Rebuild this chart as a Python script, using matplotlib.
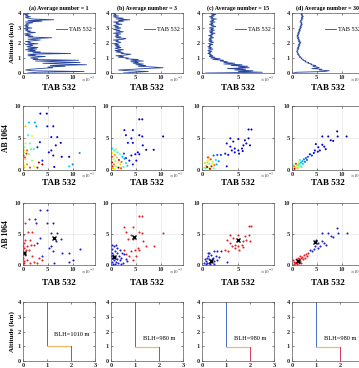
import matplotlib
matplotlib.use('Agg')
import matplotlib.pyplot as plt
import numpy as np

plt.rcParams['font.family'] = ['Liberation Serif', 'DejaVu Serif']
plt.rcParams['mathtext.fontset'] = 'stix'

# ---------------- data (TAB / AB in units of 1e-3) ----------------
titles = ['(a) Average number = 1', '(b) Average number = 3',
          '(c) Average number = 15', '(d) Average number = 30']

alt = [0.00, 0.05, 0.10, 0.15, 0.20, 0.25, 0.30, 0.35, 0.40, 0.45, 0.50, 0.55, 0.60, 0.65,
       0.70, 0.75, 0.80, 0.85, 0.90, 0.95, 1.00, 1.05, 1.10, 1.15, 1.20, 1.25, 1.30, 1.35,
       1.40, 1.45, 1.50, 1.55, 1.60, 1.65, 1.70, 1.75, 1.80, 1.85, 1.90, 1.95, 2.00, 2.05,
       2.10, 2.15, 2.20, 2.25, 2.30, 2.35, 2.40, 2.45, 2.50, 2.55, 2.60, 2.65, 2.70, 2.75,
       2.80, 2.85, 2.90, 2.95, 3.00, 3.05, 3.10, 3.15, 3.20, 3.25, 3.30, 3.35, 3.40, 3.45,
       3.50, 3.55, 3.60, 3.65, 3.70, 3.75, 3.80, 3.85, 3.90, 3.95, 4.00]

tab_a = [1.0, 3.0, 12.3, 2.0, 0.5, 1.5, 3.5, 6.0, 5.0, 8.5, 5.5, 12.8, 7.5, 4.0, 11.5, 7.0,
         2.5, 11.2, 2.0, 3.0, 1.5, 2.5, 4.5, 1.0, 2.5, 1.0, 9.6, 2.0, 3.5, 1.0, 2.5, 0.5,
         2.8, 1.0, 3.0, 0.8, 1.5, 2.0, 0.5, 3.0, 1.0, 1.5, 0.5, 2.0, 3.5, 1.0, 2.5, 5.8,
         1.0, 2.0, 0.5, 1.5, 0.3, 1.0, 2.5, 0.8, 1.5, 0.5, 1.0, 0.3, 1.8, 0.5, 1.0, 0.3,
         1.2, 0.5, 0.8, 2.0, 0.5, 3.8, 1.0, 6.2, 2.0, 1.0, 0.5, 1.5, 0.5, 1.0, 0.3, 1.2, 0.8]
tab_b = [2.5, 5.0, 7.5, 3.5, 1.5, 4.5, 7.0, 10.5, 8.5, 5.5, 7.0, 5.0, 6.5, 4.5, 5.5, 4.0,
         6.5, 4.0, 5.5, 3.0, 3.5, 1.5, 2.5, 1.0, 3.0, 4.0, 2.0, 2.5, 1.0, 2.0, 0.8, 2.5,
         1.5, 0.8, 2.0, 1.0, 1.8, 0.8, 1.5, 0.5, 1.5, 2.0, 1.0, 1.5, 0.5, 2.5, 3.0, 1.0,
         2.0, 0.8, 1.5, 1.0, 2.0, 0.5, 1.5, 2.5, 1.0, 1.8, 0.5, 1.2, 2.0, 0.8, 1.5, 0.5,
         1.0, 2.2, 1.0, 1.5, 0.5, 2.5, 1.5, 3.8, 1.0, 2.5, 1.0, 0.5, 1.5, 0.5, 1.0, 0.5, 0.8]
tab_c = [0.5, 8.3, 5.0, 7.0, 4.5, 6.0, 3.5, 6.5, 5.0, 6.3, 4.0, 5.5, 3.0, 4.5, 3.0, 3.5,
         2.5, 3.0, 1.5, 2.5, 1.2, 1.8, 1.0, 1.5, 1.0, 1.3, 0.8, 1.2, 0.9, 1.4, 0.8, 1.1,
         1.5, 0.9, 1.3, 0.8, 1.2, 1.0, 1.5, 0.9, 1.2, 1.6, 1.0, 1.4, 0.9, 1.3, 1.0, 1.6,
         1.1, 1.4, 0.9, 1.5, 1.2, 1.8, 1.1, 1.5, 1.0, 1.7, 1.2, 1.6, 1.0, 1.4, 1.9, 1.2,
         1.6, 1.0, 1.5, 1.2, 1.8, 1.1, 1.6, 1.3, 2.0, 1.2, 1.5, 1.0, 1.7, 1.3, 1.9, 1.2, 1.5]
tab_d = [0.3, 1.0, 6.5, 7.5, 5.5, 6.0, 4.0, 5.5, 5.0, 4.2, 4.8, 3.8, 4.0, 3.2, 3.4, 2.6,
         2.8, 2.2, 2.3, 1.8, 2.0, 1.5, 1.7, 1.3, 1.5, 1.1, 1.3, 1.0, 1.2, 0.9, 1.1, 1.3,
         1.0, 1.4, 1.1, 1.5, 1.2, 1.6, 1.3, 1.7, 1.4, 1.8, 1.3, 1.6, 1.2, 1.5, 1.1, 1.4,
         1.0, 1.3, 1.0, 1.4, 1.1, 1.5, 1.2, 1.6, 1.3, 1.7, 1.4, 1.8, 1.5, 1.9, 1.6, 2.0,
         1.7, 2.1, 1.8, 2.0, 1.6, 1.9, 1.7, 2.1, 1.8, 2.2, 1.9, 2.3, 1.9, 2.2, 1.8, 2.1, 1.9]

# scatter: "hi" = spread cluster, "lo" = cluster near origin; h = altitude (km) used for colour
xa_hi = [3.5, 4.8, 2.4, 2.7, 4.9, 6.1, 5.7, 6.9, 3.4, 7.6, 6.6, 2.9, 5.7, 5.2, 6.1, 7.8, 9.3, 11.4, 3.9, 10.0, 9.3, 6.3]
ya_hi = [8.8, 8.8, 7.4, 6.8, 6.8, 6.8, 5.1, 5.1, 4.3, 4.2, 3.8, 3.5, 3.0, 2.7, 2.2, 2.0, 2.0, 2.6, 1.4, 0.8, 0.5, 0.4]
ha_hi = [0.3, 0.2, 1.2, 1.1, 0.3, 0.2, 0.4, 0.3, 0.5, 0.2, 0.3, 0.6, 0.4, 0.5, 0.3, 0.2, 0.1, 1.1, 0.6, 1.0, 1.3, 0.4]
xa_lo = [0.5, 1.2, 1.0, 1.8, 0.1, 0.5, 1.4, 2.2, 1.6, 0.8, 1.2, 0.1, 0.5, 1.8, 3.2, 3.9, 0.8, 2.2,
         1.4, 0.3, 2.9, 0.1, 0.1, 0.3, 0.7, 0.2, 0.4, 0.2]
ya_lo = [6.8, 7.4, 5.4, 5.3, 4.9, 4.1, 4.1, 3.2, 3.2, 3.0, 2.4, 2.2, 1.6, 1.4, 1.1, 0.8, 0.8, 0.5,
         0.3, 0.3, 0.3, 1.1, 3.0, 3.5, 2.5, 0.6, 1.9, 2.7]
ha_lo = [2.8, 1.3, 1.5, 2.6, 2.9, 2.3, 1.8, 1.6, 1.9, 3.2, 2.0, 3.6, 2.7, 2.2, 3.8, 3.9, 3.0, 2.5,
         3.4, 2.8, 3.7, 2.4, 3.1, 2.1, 3.5, 2.6, 3.3, 2.2]

xb_hi = [5.7, 6.3, 2.7, 4.4, 3.0, 5.7, 6.3, 10.5, 4.1, 3.4, 4.4, 6.4, 7.1, 8.6, 5.4, 4.9, 4.1, 5.7,
         3.0, 5.1, 4.4, 3.7, 2.6]
yb_hi = [7.9, 7.9, 6.2, 6.2, 5.4, 5.4, 5.2, 5.2, 4.9, 4.2, 4.2, 3.8, 3.1, 3.1, 2.7, 2.4, 2.2, 2.4,
         1.8, 1.4, 0.8, 1.4, 2.5]
hb_hi = [0.2, 0.2, 0.4, 0.3, 0.4, 0.2, 0.3, 0.1, 0.3, 0.5, 0.4, 0.2, 0.2, 0.1, 0.3, 0.4, 0.5, 0.3,
         0.6, 0.5, 0.6, 0.5, 0.7]
xb_lo = [0.2, 0.6, 1.0, 0.3, 1.3, 0.8, 1.8, 2.3, 0.2, 1.2, 2.7, 0.5, 1.6, 0.9, 2.1, 0.2, 1.3, 3.0,
         0.6, 1.9, 0.3, 1.0, 2.5, 1.5, 0.4, 2.0, 0.8, 3.3, 0.1]
yb_lo = [3.3, 3.0, 3.2, 2.6, 2.7, 2.3, 2.4, 2.0, 2.0, 1.9, 1.7, 1.6, 1.5, 1.3, 1.2, 1.1, 1.0, 1.0,
         0.8, 0.8, 0.5, 0.5, 0.4, 0.3, 0.2, 0.2, 0.1, 0.6, 1.5]
hb_lo = [1.3, 1.8, 2.2, 2.6, 1.5, 3.0, 1.9, 1.2, 3.4, 2.8, 1.1, 2.4, 3.6, 2.0, 3.2, 3.8, 2.5, 1.4,
         3.1, 2.7, 3.5, 2.2, 1.7, 3.9, 2.9, 3.3, 2.6, 1.3, 2.3]

xc_hi = [6.4, 6.8, 3.9, 4.3, 5.0, 5.9, 6.4, 6.6, 5.7, 3.4, 3.9, 4.5, 5.0, 5.5, 4.5, 5.1, 4.1, 6.1,
         3.2, 3.6, 5.6]
yc_hi = [6.3, 6.3, 4.9, 4.4, 4.8, 4.6, 4.9, 3.8, 3.8, 4.1, 3.6, 3.3, 3.0, 3.3, 2.7, 2.5, 3.0, 4.1,
         2.5, 2.3, 2.9]
hc_hi = [0.1, 0.1, 0.3, 0.3, 0.2, 0.2, 0.1, 0.2, 0.2, 0.4, 0.4, 0.3, 0.3, 0.3, 0.4, 0.4, 0.4, 0.2,
         0.5, 0.5, 0.3]
xc_lo = [2.6, 2.1, 1.6, 0.9, 0.7, 3.4, 2.0, 1.2, 0.8, 1.5, 1.0, 0.6, 1.3, 0.9, 1.7, 0.5, 1.1, 0.4,
         1.9, 0.7, 1.4, 0.3, 1.6, 2.3, 0.8]
yc_lo = [2.3, 2.3, 2.2, 1.9, 1.1, 0.5, 0.8, 1.6, 1.4, 1.2, 0.9, 0.6, 0.5, 0.3, 0.7, 0.2, 0.1, 1.0,
         1.5, 0.4, 0.9, 0.3, 0.2, 1.3, 1.9]
hc_lo = [0.7, 0.8, 0.9, 3.0, 2.0, 0.6, 1.2, 3.4, 2.6, 2.2, 1.8, 2.9, 3.6, 2.4, 3.2, 1.6, 3.8, 2.7,
         1.4, 3.9, 2.5, 2.1, 1.9, 1.1, 3.3]

xd_hi = [9.1, 9.2, 11.0, 6.1, 7.3, 7.8, 8.3, 4.8, 6.1, 5.3, 6.5, 6.8, 5.6, 4.6, 4.4, 5.2, 3.6, 4.0]
yd_hi = [6.0, 5.2, 5.2, 5.2, 5.2, 4.6, 4.5, 4.0, 3.9, 3.5, 3.6, 3.2, 3.0, 3.0, 2.6, 2.8, 2.4, 2.2]
hd_hi = [0.1, 0.1, 0.1, 0.2, 0.2, 0.2, 0.2, 0.3, 0.3, 0.3, 0.3, 0.3, 0.3, 0.4, 0.4, 0.4, 0.5, 0.6]
xd_lo = [3.2, 2.8, 2.4, 3.0, 2.1, 2.6, 1.8, 1.5, 2.2, 1.2, 1.7, 0.9, 1.4, 0.6, 1.1, 0.4, 1.9, 0.8,
         1.3, 0.5, 1.6, 0.3]
yd_lo = [2.0, 1.8, 1.6, 1.5, 1.3, 1.2, 1.1, 0.9, 0.9, 0.7, 0.6, 0.5, 0.4, 0.3, 0.2, 0.5, 0.4, 0.9,
         1.2, 0.1, 1.5, 0.8]
hd_lo = [0.8, 0.9, 1.0, 0.9, 1.1, 1.0, 1.2, 1.4, 1.3, 1.6, 1.8, 2.0, 2.3, 2.6, 2.9, 3.2, 1.7, 3.5,
         2.5, 3.8, 1.5, 2.2]

cent_hi = [(6.3, 4.3), (4.7, 4.5), (4.9, 4.0), (4.6, 3.7)]
cent_lo = [(0.3, 1.9), (0.7, 1.35), (1.2, 0.65), (1.3, 0.7)]
col_hi = ['blue', 'red', 'red', 'blue']
col_lo = ['red', 'blue', 'blue', 'red']
blh = [1.010, 0.980, 0.980, 0.980]
xmax = [14.5, 14.5, 9.9, 14.5]

profiles = [tab_a, tab_b, tab_c, tab_d]
pts = [(xa_hi, ya_hi, ha_hi, xa_lo, ya_lo, ha_lo),
       (xb_hi, yb_hi, hb_hi, xb_lo, yb_lo, hb_lo),
       (xc_hi, yc_hi, hc_hi, xc_lo, yc_lo, hc_lo),
       (xd_hi, yd_hi, hd_hi, xd_lo, yd_lo, hd_lo)]

# ---------------- layout (pixels of a 359x368 canvas) ----------------
W, H = 359.0, 368.0
fig = plt.figure(figsize=(3.59, 3.68), dpi=100)
lefts = [23, 111, 202, 292]
rows = [(13, 73), (106, 169.5), (203, 265), (302, 361)]
aw = 72

ccol = {'red': '#e41f1f', 'blue': '#1c1cd0'}


def make_ax(col, row):
    top, bot = rows[row]
    ax = fig.add_axes([lefts[col] / W, 1 - bot / H, aw / W, (bot - top) / H])
    ax.tick_params(direction='in', length=1.5, width=0.4, labelsize=4.6, pad=1.5,
                   top=True, right=True, colors='0.15')
    for s in ax.spines.values():
        s.set_linewidth(0.5)
        s.set_color('0.35')
    return ax


def bold_ticks(ax):
    for lab in ax.get_xticklabels() + ax.get_yticklabels():
        lab.set_fontweight('bold')


def exp_label(ax):
    ax.text(1.0, -0.035, r'$\times10^{-3}$', transform=ax.transAxes, ha='right', va='top',
            fontsize=3.6, color='0.3')


for i in range(4):
    xt = [0, 5, 10] if xmax[i] > 10 else [0, 5]

    # row 1: profiles
    ax = make_ax(i, 0)
    ax.plot(profiles[i], alt, color='#2846a0', lw=0.6, label='TAB 532')
    ax.set_xlim(0, xmax[i])
    ax.set_ylim(0, 4)
    ax.set_xticks(xt)
    ax.set_yticks([0, 1, 2, 3, 4])
    bold_ticks(ax)
    exp_label(ax)
    ax.set_title(titles[i], fontsize=4.2, fontweight='bold', pad=2.5)
    ax.set_xlabel('TAB 532', fontsize=6.5, fontweight='bold', labelpad=3)
    ax.legend(loc='center right', bbox_to_anchor=(1.0, 0.73), frameon=False, fontsize=4.5,
              handlelength=1.8, handletextpad=0.35, borderaxespad=0.2, borderpad=0.3)
    if i == 0:
        ax.set_ylabel('Altitude (km)', fontsize=5, fontweight='bold', labelpad=2)

    xh, yh, hh, xl, yl, hl = pts[i]

    # row 2: coloured by altitude
    ax = make_ax(i, 1)
    ax.grid(True, color='0.88', lw=0.4)
    ax.set_axisbelow(True)
    ax.scatter(xh + xl, yh + yl, c=hh + hl, cmap='jet', vmin=0, vmax=4, s=2.2, linewidths=0)
    ax.set_xlim(0, xmax[i])
    ax.set_ylim(0, 10)
    ax.set_xticks(xt)
    ax.set_yticks([0, 5, 10])
    bold_ticks(ax)
    exp_label(ax)
    ax.set_xlabel('TAB 532', fontsize=6.5, fontweight='bold', labelpad=1.5)
    if i == 0:
        ax.set_ylabel('AB 1064', fontsize=5.5, fontweight='bold', labelpad=3)

    # row 3: clusters with centroids
    ax = make_ax(i, 2)
    ax.grid(True, color='0.88', lw=0.4)
    ax.set_axisbelow(True)
    ax.scatter(xh, yh, color=ccol[col_hi[i]], s=2.2, linewidths=0)
    ax.scatter(xl, yl, color=ccol[col_lo[i]], s=2.2, linewidths=0)
    ax.plot(*cent_hi[i], marker='x', color='k', ms=3.5, mew=1.0)
    ax.plot(*cent_lo[i], marker='x', color='k', ms=3.5, mew=1.0)
    ax.set_xlim(0, xmax[i])
    ax.set_ylim(0, 10)
    ax.set_xticks(xt)
    ax.set_yticks([0, 5, 10])
    bold_ticks(ax)
    exp_label(ax)
    ax.set_xlabel('TAB 532', fontsize=6.5, fontweight='bold', labelpad=5)
    if i == 0:
        ax.set_ylabel('AB 1064', fontsize=5.5, fontweight='bold', labelpad=3)

    # row 4: cluster index vs altitude
    ax = make_ax(i, 3)
    b = blh[i]
    ax.plot([1, 1], [4, b], color='#4a6cc8', lw=0.7)
    ax.plot([1, 2], [b, b], color='#f4b868', lw=0.9)
    ax.plot([2, 2], [b, 0], color='#d83a5a', lw=0.7)
    ax.text(1.3 if i == 0 else 1.35, 1.7 if i == 0 else 1.45, 'BLH=%d m' % round(b * 1000),
            fontsize=4.6)
    ax.set_xlim(0, 3)
    ax.set_ylim(0, 4)
    ax.set_xticks([0, 1, 2, 3])
    ax.set_yticks([0, 1, 2, 3, 4])
    bold_ticks(ax)
    if i == 0:
        ax.set_ylabel('Altitude (km)', fontsize=5, fontweight='bold', labelpad=2)

fig.savefig('out.png', dpi=100)
